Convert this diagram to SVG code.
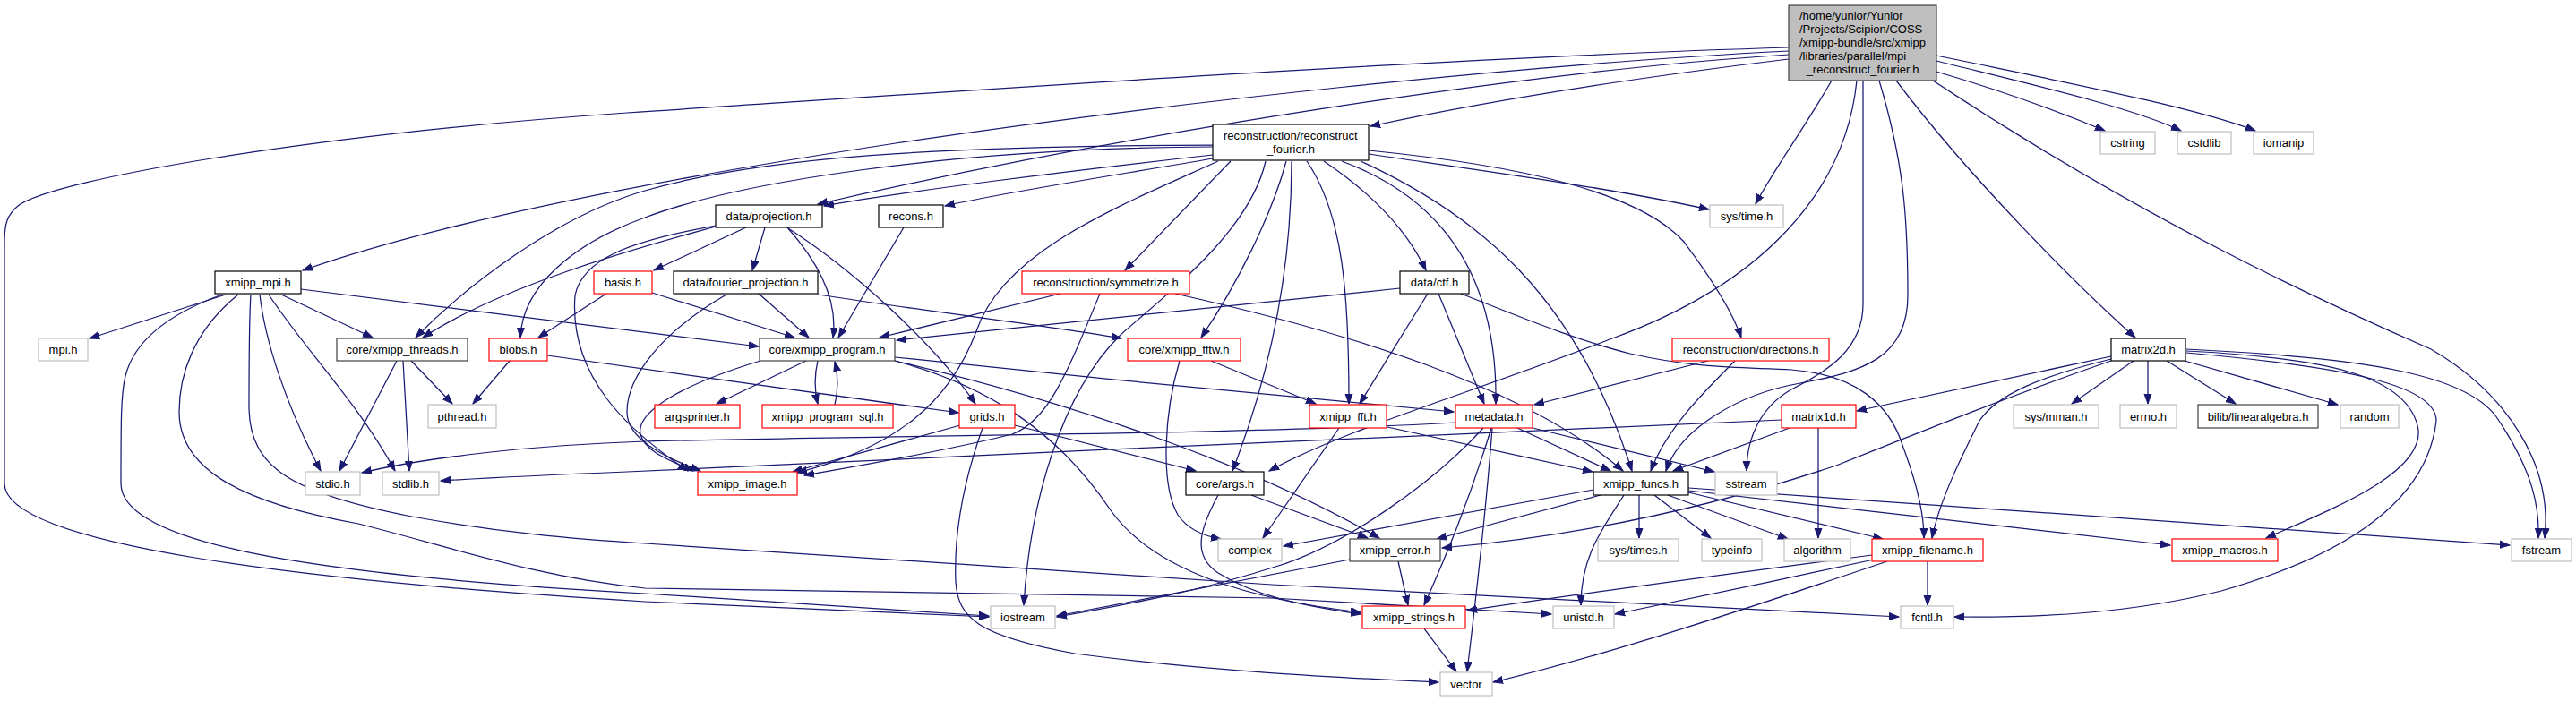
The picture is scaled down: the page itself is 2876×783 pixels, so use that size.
<svg xmlns="http://www.w3.org/2000/svg" width="2876" height="783" viewBox="0 0 2876 783">
<defs>
<marker id="a" markerWidth="12" markerHeight="10" refX="11" refY="5" orient="auto" markerUnits="userSpaceOnUse"><path d="M0,1 L11,5 L0,9 z" fill="#191970" stroke="#191970" stroke-width="1"/></marker>
</defs>
<style>
.e path{fill:none;stroke:#191970;stroke-width:1.25;marker-end:url(#a)}
rect{fill:#fff;stroke-width:1.2}
.k rect{stroke:#000}
.d rect{stroke:#404040}
.r rect{stroke:#ff0000}
.g rect{stroke:#bfbfbf}
.root rect{fill:#bfbfbf;stroke:#404040}
text{font-family:"Liberation Sans",Arial,Helvetica,sans-serif;font-size:13px;fill:#000}
.c{text-anchor:middle}
</style>
<rect x="0" y="0" width="2876" height="783" style="fill:#fff;stroke:none"/>
<g id="edges" class="e">
<path d="M1997,57 C1700,72 1300,115 1000,160 C750,198 500,245 338,302"/>
<path d="M1997,53 C1600,65 1100,100 700,126 C350,150 60,200 20,230 C8,240 5,250 5,270 L5,540 C5,610 350,650 720,672 L1104,689"/>
<path d="M1997,61 C1700,80 1250,150 913,228"/>
<path d="M1997,66 C1800,90 1650,115 1530,141"/>
<path d="M2045,90 C2010,150 1980,190 1960,228"/>
<path d="M2073,90 C2060,220 1960,320 1800,378 C1640,440 1500,480 1417,526"/>
<path d="M2080,90 L2080,340 C2080,390 2040,415 2000,435 C1965,455 1950,490 1950,526"/>
<path d="M2098,90 C2125,180 2130,240 2130,330 C2130,400 2080,415 2010,428 C1940,440 1875,480 1860,526"/>
<path d="M2162,80 C2230,100 2300,125 2350,146"/>
<path d="M2162,68 C2270,95 2380,120 2435,146"/>
<path d="M2162,62 C2320,95 2450,120 2518,146"/>
<path d="M2117,90 C2200,200 2320,320 2384,377"/>
<path d="M2158,90 C2400,250 2600,340 2714,390 C2800,440 2850,520 2841,601"/>
<path d="M1354,162 C1050,163 850,175 720,213 C620,242 520,320 464,377"/>
<path d="M1354,164 C1050,166 820,205 720,243 C640,272 583,320 581,377"/>
<path d="M1354,173 C1200,190 1000,215 920,230"/>
<path d="M1354,177 C1250,195 1120,215 1055,230"/>
<path d="M1360,180 C1250,230 1120,280 1090,370 C1060,450 1000,500 890,528"/>
<path d="M1374,180 L1256,302"/>
<path d="M1413,180 C1395,260 1300,330 1250,375 C1185,440 1150,560 1143,676"/>
<path d="M1436,180 C1420,240 1380,320 1341,377"/>
<path d="M1442,180 C1442,280 1425,400 1376,526"/>
<path d="M1459,180 C1500,240 1506,330 1506,451"/>
<path d="M1478,180 C1530,215 1570,255 1592,302"/>
<path d="M1498,180 C1620,225 1672,320 1670,451"/>
<path d="M1519,180 C1650,240 1760,330 1822,526"/>
<path d="M1528,172 C1650,190 1800,210 1908,234"/>
<path d="M1528,168 C1700,185 1830,215 1880,270 C1910,310 1935,350 1944,377"/>
<path d="M833,254 L730,302"/>
<path d="M854,254 L840,302"/>
<path d="M879,254 C920,300 935,340 930,377"/>
<path d="M799,253 C700,280 560,320 472,377"/>
<path d="M799,252 C700,270 650,290 642,330 C635,420 700,480 768,526"/>
<path d="M880,255 C950,300 1040,380 1089,451"/>
<path d="M1009,254 L936,377"/>
<path d="M677,328 L601,377"/>
<path d="M728,327 L887,377"/>
<path d="M847,328 L903,377"/>
<path d="M913,329 C1050,350 1180,365 1252,378"/>
<path d="M811,329 C740,370 700,420 700,460 C700,490 740,510 782,526"/>
<path d="M1184,328 L982,377"/>
<path d="M1228,328 C1190,420 1170,470 1130,485 C1050,505 960,520 898,531"/>
<path d="M1312,328 C1500,370 1700,430 1812,526"/>
<path d="M900,403 L800,451"/>
<path d="M913,403 C909,420 909,435 913,451"/>
<path d="M932,452 C936,435 936,420 932,404"/>
<path d="M849,403 C760,430 710,460 715,485 C720,505 750,515 774,526"/>
<path d="M999,399 C1200,420 1450,445 1623,460"/>
<path d="M999,403 C1200,450 1400,520 1540,601"/>
<path d="M999,403 C1100,430 1180,480 1240,570 C1290,640 1400,670 1519,684"/>
<path d="M252,329 L100,378"/>
<path d="M248,329 C190,350 150,380 140,420 C135,440 135,470 135,540 C135,600 300,640 720,663 L1104,688"/>
<path d="M266,329 C215,370 200,420 200,460 C200,520 260,560 400,585 C500,610 600,645 720,657 L1420,668 L1732,686"/>
<path d="M280,329 C278,360 278,420 278,457 C280,520 320,550 460,577 C560,595 640,602 720,607 L1420,653 L2120,689"/>
<path d="M290,329 C296,380 318,450 358,526"/>
<path d="M300,329 C340,390 400,450 441,526"/>
<path d="M314,329 L416,377"/>
<path d="M336,323 L847,387"/>
<path d="M459,403 L505,451"/>
<path d="M443,403 L379,526"/>
<path d="M450,403 L457,526"/>
<path d="M569,403 L528,451"/>
<path d="M611,397 L1070,461"/>
<path d="M1563,322 L1001,380"/>
<path d="M1594,328 L1518,451"/>
<path d="M1606,328 L1657,451"/>
<path d="M1631,328 C1700,355 1760,380 1820,395 C1900,413 1950,410 2000,413 C2070,418 2110,450 2125,500 C2140,540 2148,575 2148,601"/>
<path d="M1907,403 L1713,452"/>
<path d="M1937,403 C1900,440 1860,480 1843,526"/>
<path d="M1317,403 C1300,460 1295,540 1315,575 C1325,590 1340,598 1363,602"/>
<path d="M1352,403 L1469,451"/>
<path d="M1495,478 L1410,601"/>
<path d="M1549,477 L1778,527"/>
<path d="M1625,472 C1400,485 1000,486 720,493 C600,497 480,510 404,528"/>
<path d="M1989,469 C1700,478 1100,510 700,527 C600,531 540,534 492,537"/>
<path d="M1694,478 L1798,526"/>
<path d="M1711,478 L1914,527"/>
<path d="M1665,478 C1640,560 1615,620 1590,676"/>
<path d="M1666,478 C1660,560 1650,650 1638,750"/>
<path d="M1656,478 C1600,540 1500,610 1424,633 C1340,660 1260,675 1180,689"/>
<path d="M1397,553 L1527,601"/>
<path d="M1360,553 C1340,590 1330,620 1360,640 C1400,665 1450,676 1519,686"/>
<path d="M1133,475 L1335,526"/>
<path d="M1072,475 L885,527"/>
<path d="M1097,478 C1075,540 1065,600 1067,650 C1070,690 1090,710 1200,730 C1350,750 1500,757 1606,762"/>
<path d="M1561,627 L1572,676"/>
<path d="M1507,625 L1180,688"/>
<path d="M1779,547 L1433,610"/>
<path d="M1787,553 L1604,602"/>
<path d="M1830,553 L1830,601"/>
<path d="M1847,553 L1910,601"/>
<path d="M1862,553 L1996,602"/>
<path d="M1885,550 L2102,602"/>
<path d="M1885,548 L2423,609"/>
<path d="M1885,545 L2802,609"/>
<path d="M1813,553 C1790,590 1765,620 1765,676"/>
<path d="M2090,620 C1900,645 1750,665 1638,682"/>
<path d="M2092,625 C2000,645 1880,670 1803,686"/>
<path d="M2107,627 C1950,680 1800,730 1667,762"/>
<path d="M2152,627 L2152,676"/>
<path d="M1590,702 L1626,750"/>
<path d="M1998,478 L1868,526"/>
<path d="M2030,478 L2030,601"/>
<path d="M2357,398 L2073,459"/>
<path d="M2357,401 C2280,420 2230,440 2210,470 C2190,510 2165,560 2157,601"/>
<path d="M2357,403 C2250,440 2150,480 2050,520 C1900,570 1750,600 1610,612"/>
<path d="M2382,403 L2313,451"/>
<path d="M2398,403 L2398,451"/>
<path d="M2419,403 L2496,451"/>
<path d="M2439,403 L2610,452"/>
<path d="M2441,392 C2600,400 2690,420 2700,480 C2705,530 2600,570 2530,601"/>
<path d="M2441,394 C2620,410 2720,430 2720,470 C2710,560 2620,620 2480,660 C2380,685 2280,690 2182,689"/>
<path d="M2441,390 C2650,400 2760,420 2790,470 C2830,530 2835,570 2834,601"/>
</g>
<g id="node-root" class="root"><rect x="1997" y="6" width="165" height="84"/><text x="2009" y="21.5">/home/yunior/Yunior</text><text x="2009" y="36.5">/Projects/Scipion/COSS</text><text x="2009" y="51.5">/xmipp-bundle/src/xmipp</text><text x="2009" y="66.5">/libraries/parallel/mpi</text><text class="c" x="2079.5" y="81.5">_reconstruct_fourier.h</text></g>
<g id="node-rf" class="k"><rect x="1354" y="139" width="174" height="40"/><text x="1366" y="155.5">reconstruction/reconstruct</text><text class="c" x="1441" y="170.5">_fourier.h</text></g>
<g id="node-xmipp_mpi" class="k"><rect x="240" y="303" width="96" height="25"/><text class="c" x="288" y="320">xmipp_mpi.h</text></g>
<g id="node-mpi" class="g"><rect x="43" y="378" width="55" height="25"/><text class="c" x="70.5" y="395">mpi.h</text></g>
<g id="node-threads" class="d"><rect x="376" y="378" width="146" height="25"/><text class="c" x="449" y="395">core/xmipp_threads.h</text></g>
<g id="node-blobs" class="r"><rect x="546" y="378" width="65" height="25"/><text class="c" x="578.5" y="395">blobs.h</text></g>
<g id="node-basis" class="r"><rect x="663" y="303" width="65" height="25"/><text class="c" x="695.5" y="320">basis.h</text></g>
<g id="node-proj" class="k"><rect x="799" y="229" width="119" height="25"/><text class="c" x="858.5" y="246">data/projection.h</text></g>
<g id="node-recons" class="k"><rect x="981" y="229" width="72" height="25"/><text class="c" x="1017" y="246">recons.h</text></g>
<g id="node-fproj" class="k"><rect x="752" y="303" width="161" height="25"/><text class="c" x="832.5" y="320">data/fourier_projection.h</text></g>
<g id="node-sym" class="r"><rect x="1141" y="303" width="187" height="25"/><text class="c" x="1234.5" y="320">reconstruction/symmetrize.h</text></g>
<g id="node-prog" class="d"><rect x="848" y="378" width="151" height="25"/><text class="c" x="923.5" y="395">core/xmipp_program.h</text></g>
<g id="node-fftw" class="r"><rect x="1259" y="378" width="126" height="25"/><text class="c" x="1322" y="395">core/xmipp_fftw.h</text></g>
<g id="node-systime" class="g"><rect x="1909" y="229" width="82" height="25"/><text class="c" x="1950" y="246">sys/time.h</text></g>
<g id="node-ctf" class="k"><rect x="1563" y="303" width="77" height="25"/><text class="c" x="1601.5" y="320">data/ctf.h</text></g>
<g id="node-dirs" class="r"><rect x="1867" y="378" width="175" height="25"/><text class="c" x="1954.5" y="395">reconstruction/directions.h</text></g>
<g id="node-cstring" class="g"><rect x="2345" y="147" width="61" height="25"/><text class="c" x="2375.5" y="164">cstring</text></g>
<g id="node-cstdlib" class="g"><rect x="2431" y="147" width="60" height="25"/><text class="c" x="2461" y="164">cstdlib</text></g>
<g id="node-iomanip" class="g"><rect x="2516" y="147" width="67" height="25"/><text class="c" x="2549.5" y="164">iomanip</text></g>
<g id="node-matrix2d" class="k"><rect x="2357" y="378" width="83" height="25"/><text class="c" x="2398.5" y="395">matrix2d.h</text></g>
<g id="node-pthread" class="g"><rect x="478" y="452" width="76" height="26"/><text class="c" x="516" y="469.5">pthread.h</text></g>
<g id="node-stdio" class="g"><rect x="341" y="527" width="61" height="26"/><text class="c" x="371.5" y="544.5">stdio.h</text></g>
<g id="node-stdlib" class="g"><rect x="427" y="527" width="63" height="26"/><text class="c" x="458.5" y="544.5">stdlib.h</text></g>
<g id="node-argsprinter" class="r"><rect x="731" y="452" width="95" height="26"/><text class="c" x="778.5" y="469.5">argsprinter.h</text></g>
<g id="node-sql" class="r"><rect x="851" y="452" width="146" height="26"/><text class="c" x="924" y="469.5">xmipp_program_sql.h</text></g>
<g id="node-grids" class="r"><rect x="1071" y="452" width="62" height="26"/><text class="c" x="1102" y="469.5">grids.h</text></g>
<g id="node-image" class="r"><rect x="779" y="527" width="111" height="26"/><text class="c" x="834.5" y="544.5">xmipp_image.h</text></g>
<g id="node-args" class="k"><rect x="1324" y="527" width="87" height="26"/><text class="c" x="1367.5" y="544.5">core/args.h</text></g>
<g id="node-complex" class="g"><rect x="1360" y="602" width="71" height="25"/><text class="c" x="1395.5" y="619">complex</text></g>
<g id="node-iostream" class="g"><rect x="1106" y="677" width="72" height="25"/><text class="c" x="1142" y="694">iostream</text></g>
<g id="node-fft" class="r"><rect x="1462" y="452" width="86" height="26"/><text class="c" x="1505" y="469.5">xmipp_fft.h</text></g>
<g id="node-metadata" class="r"><rect x="1625" y="452" width="86" height="26"/><text class="c" x="1668" y="469.5">metadata.h</text></g>
<g id="node-matrix1d" class="r"><rect x="1989" y="452" width="83" height="26"/><text class="c" x="2030.5" y="469.5">matrix1d.h</text></g>
<g id="node-funcs" class="k"><rect x="1779" y="527" width="106" height="26"/><text class="c" x="1832" y="544.5">xmipp_funcs.h</text></g>
<g id="node-sstream" class="g"><rect x="1915" y="527" width="69" height="26"/><text class="c" x="1949.5" y="544.5">sstream</text></g>
<g id="node-error" class="d"><rect x="1507" y="602" width="101" height="25"/><text class="c" x="1557.5" y="619">xmipp_error.h</text></g>
<g id="node-systimes" class="g"><rect x="1784" y="602" width="90" height="25"/><text class="c" x="1829" y="619">sys/times.h</text></g>
<g id="node-typeinfo" class="g"><rect x="1900" y="602" width="67" height="25"/><text class="c" x="1933.5" y="619">typeinfo</text></g>
<g id="node-algorithm" class="g"><rect x="1992" y="602" width="74" height="25"/><text class="c" x="2029" y="619">algorithm</text></g>
<g id="node-filename" class="r"><rect x="2090" y="602" width="124" height="25"/><text class="c" x="2152" y="619">xmipp_filename.h</text></g>
<g id="node-strings" class="r"><rect x="1521" y="677" width="115" height="25"/><text class="c" x="1578.5" y="694">xmipp_strings.h</text></g>
<g id="node-unistd" class="g"><rect x="1734" y="677" width="68" height="25"/><text class="c" x="1768" y="694">unistd.h</text></g>
<g id="node-vector" class="g"><rect x="1608" y="751" width="58" height="26"/><text class="c" x="1637" y="768.5">vector</text></g>
<g id="node-mman" class="g"><rect x="2248" y="452" width="95" height="26"/><text class="c" x="2295.5" y="469.5">sys/mman.h</text></g>
<g id="node-errno" class="g"><rect x="2367" y="452" width="63" height="26"/><text class="c" x="2398.5" y="469.5">errno.h</text></g>
<g id="node-linalg" class="d"><rect x="2454" y="452" width="134" height="26"/><text class="c" x="2521" y="469.5">bilib/linearalgebra.h</text></g>
<g id="node-random" class="g"><rect x="2613" y="452" width="65" height="26"/><text class="c" x="2645.5" y="469.5">random</text></g>
<g id="node-macros" class="r"><rect x="2425" y="602" width="118" height="25"/><text class="c" x="2484" y="619">xmipp_macros.h</text></g>
<g id="node-fstream" class="g"><rect x="2804" y="602" width="67" height="25"/><text class="c" x="2837.5" y="619">fstream</text></g>
<g id="node-fcntl" class="g"><rect x="2122" y="677" width="59" height="25"/><text class="c" x="2151.5" y="694">fcntl.h</text></g>
</svg>
